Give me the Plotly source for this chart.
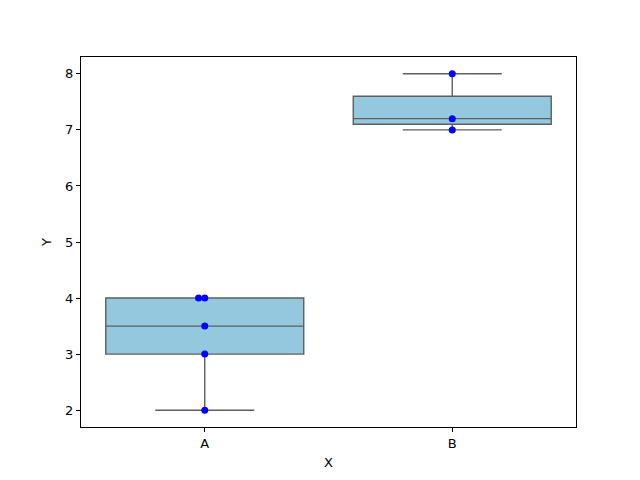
import numpy as np
import plotly.graph_objects as go

categories = ["A", "B"]
values_a = [2, 3, 3.5, 4, 4]
values_b = [7, 7.2, 8]
series = [values_a, values_b]
y_ticks = [2, 3, 4, 5, 6, 7, 8]

box_fill = "#93c8de"
line_col = "#5f5f5f"

fig = go.Figure()
for i, (cat, vals) in enumerate(zip(categories, series)):
    v = np.array(vals, dtype=float)
    q1, med, q3 = np.percentile(v, [25, 50, 75])
    iqr = q3 - q1
    lo = v[v >= q1 - 1.5 * iqr].min()
    hi = v[v <= q3 + 1.5 * iqr].max()
    fig.add_trace(go.Box(
        x=[i], q1=[q1], median=[med], q3=[q3], lowerfence=[lo], upperfence=[hi],
        width=0.8, whiskerwidth=0.5, fillcolor=box_fill,
        line=dict(color=line_col, width=1.4), boxpoints=False,
        hoverinfo="skip", showlegend=False,
    ))
    # swarm-like offsets for duplicate values
    xs, seen = [], {}
    for val in vals:
        k = seen.get(val, 0)
        seen[val] = k + 1
        xs.append(i - 0.025 * k)
    fig.add_trace(go.Scatter(
        x=xs, y=vals,
        mode="markers", marker=dict(color="blue", size=7),
        showlegend=False,
    ))

tick_font = dict(family="DejaVu Sans", size=13, color="black")
axis_common = dict(
    showline=True, linecolor="black", linewidth=1, mirror=True,
    ticks="outside", ticklen=4, tickcolor="black", showgrid=False,
    zeroline=False, tickfont=tick_font,
)
fig.update_layout(
    width=640, height=480, plot_bgcolor="white", paper_bgcolor="white",
    margin=dict(l=73, r=72, t=49, b=61),
    font=dict(family="DejaVu Sans", size=13, color="black"),
    xaxis=dict(range=[-0.5, 1.5], tickvals=[0, 1], ticktext=categories,
               title=dict(text="X", standoff=8, font=tick_font), **axis_common),
    yaxis=dict(range=[1.7, 8.3], tickvals=y_ticks,
               title=dict(text="Y", standoff=10, font=tick_font), **axis_common),
)
fig.write_html("out.html")
